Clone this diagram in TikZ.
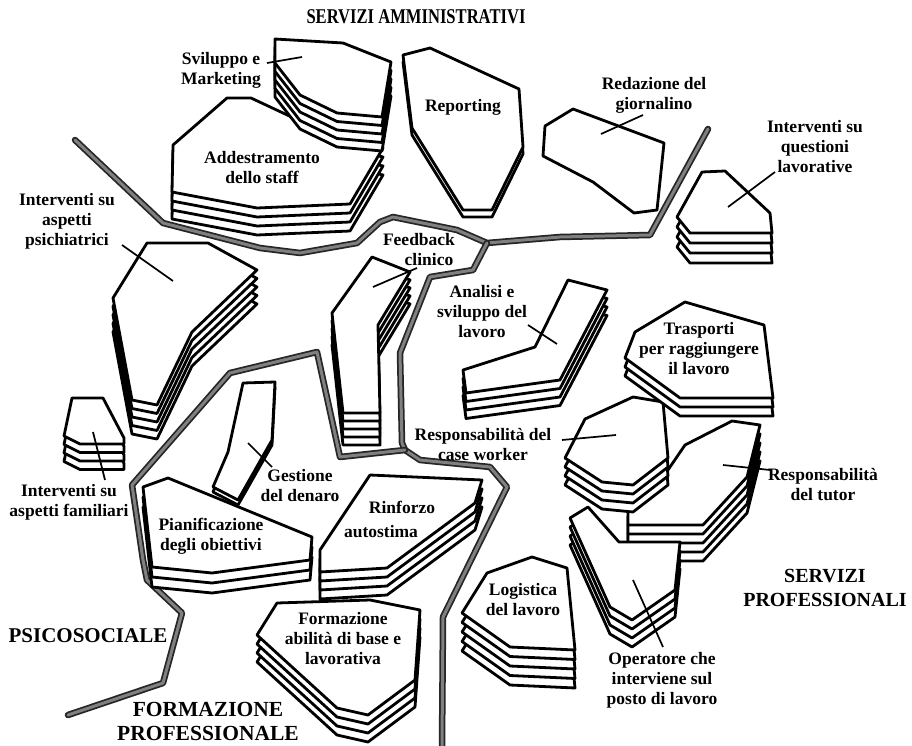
\documentclass[tikz,border=0pt]{standalone}
\usepackage{fontspec}
\setmainfont{Liberation Serif}
\newcommand\layered[4]{\foreach \k in {#1,...,0}{\path[piece, shift={(\k*#2,\k*#3)}] #4 -- cycle;}}
\newcommand\boundpath[1]{\draw[bdark] #1; \draw[blight] #1;}
\begin{document}
\begin{tikzpicture}[x=1pt,y=-1pt,
  piece/.style={draw=black, fill=white, line width=2.8pt, line join=round},
  leader/.style={draw=black, line width=1.7pt},
  bdark/.style={draw=black!85, line width=6.5pt, line join=round, line cap=round},
  blight/.style={draw=black!50, line width=3pt, line join=round, line cap=round},
  lab/.style={font=\fontsize{17.5}{20}\selectfont\bfseries, align=center, inner sep=0pt},
  region/.style={font=\fontsize{21}{24}\selectfont\bfseries, align=center, inner sep=0pt}]
\useasboundingbox (0,0) rectangle (912,746);
\fill[white] (0,0) rectangle (912,746);

% boundaries
\boundpath{(75,140)--(163,223)--(260,248)--(300,253)--(357,243)--(380,222)--(393,217)--(457,230)--(487,243)--(560,237)--(650,235)--(708,129)}
\boundpath{(487,243)--(473,270)--(430,277)--(400,353)--(402,443)--(405,450)--(420,460)--(490,467)--(507,487)--(443,617)--(442,746)}
\boundpath{(68,715)--(163,683)--(182,613)--(147,580)--(143,560)--(132,485)--(230,373)--(317,352)--(340,457)--(405,450)}

% shapes
\layered{3}{0}{9}{(173,145)--(227,98)--(251,98)--(330,135)--(383,148)--(350,204)--(257,208)--(172,192)}
\layered{4}{0}{8.5}{(275,39)--(343,43)--(391,62)--(382,117)--(337,113)--(300,95)--(275,63)}
\layered{1}{0}{7}{(403,55)--(430,48)--(519,89)--(523,147)--(492,210)--(463,210)--(412,128)}
\layered{0}{0}{0}{(545,126)--(573,109)--(664,143)--(657,210)--(634,213)--(593,182)--(543,156)}
\layered{3}{0}{10}{(702,172)--(725,171)--(770,213)--(772,233)--(690,233)--(677,217)}
\layered{4}{0}{8.5}{(147,243)--(208,243)--(257,270)--(192,332)--(157,405)--(132,400)--(113,298)}
\layered{3}{0}{8.5}{(72,398)--(103,398)--(124,438)--(124,444)--(80,444)--(64,436)}
\layered{4}{0}{8}{(372,257)--(410,272)--(378,325)--(380,413)--(343,413)--(332,313)}
\layered{3}{0}{8.5}{(568,280)--(607,290)--(560,380)--(466,393)--(463,370)--(535,347)}
\layered{4}{0}{9}{(685,445)--(732,421)--(760,425)--(747,477)--(703,525)--(628,525)--(628,507)--(650,497)--(670,467)}
\layered{3}{0}{9}{(570,518)--(588,507)--(619,542)--(680,542)--(675,590)--(632,620)--(610,607)}
\layered{3}{0}{9}{(585,419)--(633,397)--(663,402)--(668,458)--(633,485)--(602,482)--(565,458)}
\layered{2}{0}{9}{(635,332)--(685,302)--(764,325)--(773,398)--(680,398)--(625,358)}
\layered{4}{0}{9.5}{(487,573)--(532,557)--(567,568)--(575,650)--(510,647)--(462,613)}
\layered{3}{0}{9}{(370,475)--(482,480)--(475,503)--(387,568)--(320,572)--(320,550)}
\layered{3}{0}{9}{(277,603)--(370,600)--(420,610)--(415,680)--(368,715)--(337,708)--(257,635)}
\layered{2}{0}{10}{(143,487)--(168,478)--(312,537)--(310,560)--(212,573)--(152,567)}
\layered{1}{0}{5}{(243,383)--(275,382)--(272,440)--(238,500)--(213,487)--(228,452)}

% labels
\node[lab] (sviluppo) at (221,70) {Sviluppo e\\Marketing};
\node[lab] (addestr) at (262,168) {Addestramento\\dello staff};
\node[lab] (reporting) at (463,107) {Reporting};
\node[lab] (redazione) at (654,95) {Redazione del\\giornalino};
\node[lab] (questioni) at (815,147) {Interventi su\\questioni\\lavorative};
\node[lab] (psich) at (67,221) {Interventi su\\aspetti\\psichiatrici};
\node[lab] (feedback) at (419,240) {Feedback};
\node[lab] (clinico) at (429,260) {clinico};
\node[lab] (analisi) at (482,312) {Analisi e\\sviluppo del\\lavoro};
\node[lab] (trasporti) at (699,349) {Trasporti\\per raggiungere\\il lavoro};
\node[lab] (caseworker) at (483,445) {Responsabilità del\\case worker};
\node[lab] (tutor) at (823,485) {Responsabilità\\del tutor};
\node[lab] (gestione) at (300,486) {Gestione\\del denaro};
\node[lab] (pianif) at (211,536) {Pianificazione\\degli obiettivi};
\node[lab] (rinforzo) at (402,507) {Rinforzo};
\node[lab] (autostima) at (381,532) {autostima};
\node[lab] (familiari) at (69,502) {Interventi su\\aspetti familiari};
\node[lab] (formazione) at (343,639) {Formazione\\abilità di base e\\lavorativa};
\node[lab] (logistica) at (523,600) {Logistica\\del lavoro};
\node[lab] (operatore) at (662,680) {Operatore che\\interviene sul\\posto di lavoro};

\node[region] (servamm) at (416,17) {\scalebox{0.79}[1]{SERVIZI AMMINISTRATIVI}};
\node[region, font=\fontsize{20}{24}\selectfont\bfseries] (servprof) at (825,588) {SERVIZI\\PROFESSIONALI};
\node[region] (psicos) at (88,636) {PSICOSOCIALE};
\node[region, font=\fontsize{21.5}{24}\selectfont\bfseries] (formprof) at (208,721) {FORMAZIONE\\PROFESSIONALE};

% leaders
\coordinate (l1a) at (267,63); \coordinate (l1b) at (302,57);
\coordinate (l2a) at (601,134); \coordinate (l2b) at (643,115);
\coordinate (l3a) at (728,207); \coordinate (l3b) at (775,172);
\coordinate (l4a) at (122,245); \coordinate (l4b) at (173,281);
\coordinate (l5a) at (373,287); \coordinate (l5b) at (417,268);
\coordinate (l6a) at (528,325); \coordinate (l6b) at (557,344);
\coordinate (l7a) at (562,440); \coordinate (l7b) at (616,435);
\coordinate (l8a) at (723,465); \coordinate (l8b) at (770,470);
\coordinate (l9a) at (248,443); \coordinate (l9b) at (272,467);
\coordinate (l10a) at (93,432); \coordinate (l10b) at (105,480);
\coordinate (l11a) at (633,580); \coordinate (l11b) at (663,647);
\foreach \i in {1,...,11}{\draw[leader] (l\i a) -- (l\i b);}
\end{tikzpicture}
\end{document}
